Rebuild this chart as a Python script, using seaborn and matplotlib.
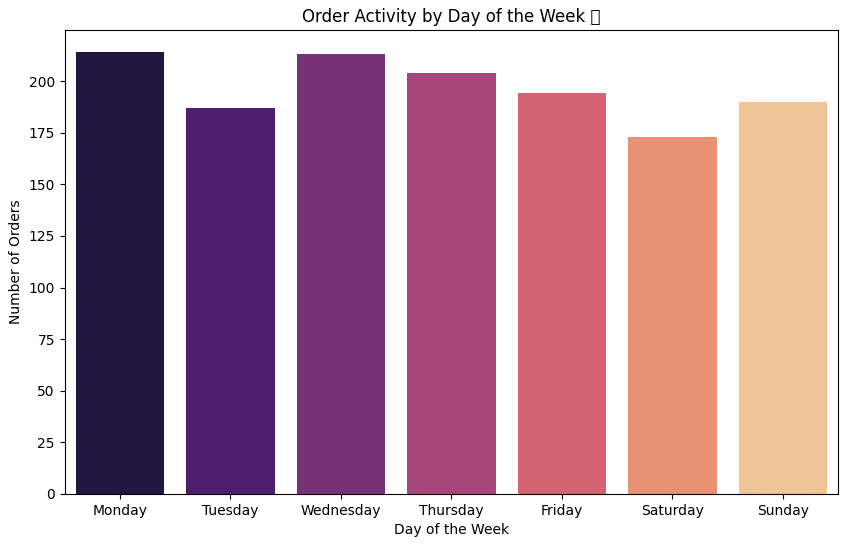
import matplotlib
matplotlib.use("Agg")
import matplotlib.pyplot as plt
import seaborn as sns
import pandas as pd

days = ['Monday', 'Tuesday', 'Wednesday', 'Thursday', 'Friday', 'Saturday', 'Sunday']
orders = [214, 187, 213, 204, 194, 173, 190]

df = pd.DataFrame({'day': days, 'orders': orders})

fig, ax = plt.subplots(figsize=(8.5, 5.47), dpi=100)
sns.barplot(data=df, x='day', y='orders', hue='day', palette='magma', legend=False, ax=ax)
ax.set_title('Order Activity by Day of the Week \U0001F4C5')
ax.set_xlabel('Day of the Week')
ax.set_ylabel('Number of Orders')
fig.subplots_adjust(left=0.076, right=0.986, top=0.945, bottom=0.097)
fig.savefig('out.png')
